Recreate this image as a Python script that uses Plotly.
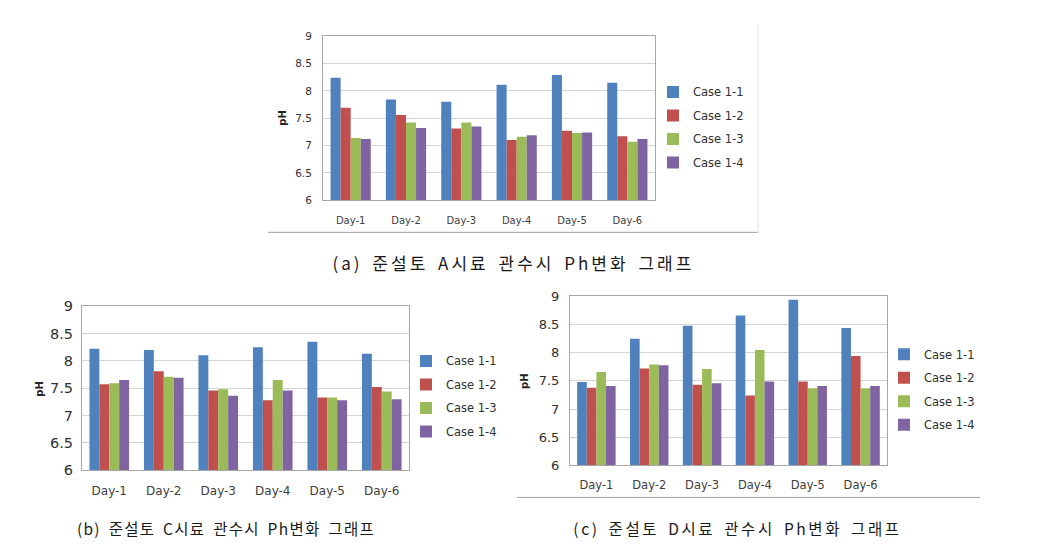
import plotly.graph_objects as go

W, H = 1045, 554

days = ["Day-1", "Day-2", "Day-3", "Day-4", "Day-5", "Day-6"]
cases = ["Case 1-1", "Case 1-2", "Case 1-3", "Case 1-4"]
colors = ["#4F81BD", "#C0504D", "#9BBB59", "#8064A2"]

# (a) sample A
a_case11 = [8.24, 7.84, 7.80, 8.11, 8.29, 8.15]
a_case12 = [7.69, 7.56, 7.31, 7.10, 7.27, 7.17]
a_case13 = [7.14, 7.42, 7.42, 7.16, 7.23, 7.07]
a_case14 = [7.12, 7.32, 7.35, 7.19, 7.24, 7.12]
# (b) sample C
b_case11 = [8.22, 8.20, 8.10, 8.25, 8.35, 8.13]
b_case12 = [7.57, 7.81, 7.46, 7.28, 7.33, 7.52]
b_case13 = [7.59, 7.71, 7.48, 7.65, 7.33, 7.44]
b_case14 = [7.65, 7.69, 7.36, 7.46, 7.28, 7.30]
# (c) sample D
c_case11 = [7.48, 8.25, 8.48, 8.66, 8.94, 8.44]
c_case12 = [7.38, 7.72, 7.43, 7.24, 7.49, 7.94]
c_case13 = [7.66, 7.79, 7.71, 8.05, 7.37, 7.37]
c_case14 = [7.41, 7.78, 7.46, 7.49, 7.41, 7.41]

y_ticks = [6, 6.5, 7, 7.5, 8, 8.5, 9]
y_ticktext = ["6", "6.5", "7", "7.5", "8", "8.5", "9"]

captions = [
    "(a) 준설토 A시료 관수시 Ph변화 그래프",
    "(b) 준설토 C시료 관수시 Ph변화 그래프",
    "(c) 준설토 D시료 관수시 Ph변화 그래프",
]

def px_x(v):
    return v / W

def px_y(v):
    return 1 - v / H

panels = [
    dict(key="a", series=[a_case11, a_case12, a_case13, a_case14],
         xdom=[323, 655], ydom=[29, 198], xfs=10, yfs=10.5, ystand=8, xstand=11,
         legend="legend", leg_x=691, leg_cy=123, ylab_x=283, ylab_y=113),
    dict(key="b", series=[b_case11, b_case12, b_case13, b_case14],
         xdom=[82, 409], ydom=[307, 476], xfs=12, yfs=14.5, ystand=5, xstand=9,
         legend="legend2", leg_x=444, leg_cy=400, ylab_x=40, ylab_y=392),
    dict(key="c", series=[c_case11, c_case12, c_case13, c_case14],
         xdom=[570, 887], ydom=[297, 471], xfs=11.5, yfs=13, ystand=7, xstand=9,
         legend="legend3", leg_x=922, leg_cy=393, ylab_x=525, ylab_y=384),
]

fig = go.Figure()
layout = dict(
    width=W, height=H,
    margin=dict(l=0, r=0, t=0, b=0),
    paper_bgcolor="white", plot_bgcolor="white",
    barmode="group", bargap=0.273, bargroupgap=0,
    font=dict(family="DejaVu Sans", color="#333333"),
    annotations=[], shapes=[],
)

for i, p in enumerate(panels):
    xa = "x" if i == 0 else f"x{i+1}"
    ya = "y" if i == 0 else f"y{i+1}"
    xkey = "xaxis" if i == 0 else f"xaxis{i+1}"
    ykey = "yaxis" if i == 0 else f"yaxis{i+1}"
    for j, (name, vals) in enumerate(zip(cases, p["series"])):
        fig.add_trace(go.Bar(
            x=days, y=vals, name=name, xaxis=xa, yaxis=ya,
            marker=dict(color=colors[j], line=dict(width=0)),
            legend=p["legend"], legendgroup=f"{p['key']}{j}",
        ))
    layout[xkey] = dict(
        domain=[px_x(p["xdom"][0]), px_x(p["xdom"][1])],
        anchor=ya, type="category", categoryorder="array", categoryarray=days,
        showline=True, linecolor="#a6a6a6", linewidth=1, mirror=True,
        showgrid=False, ticks="", ticklabelstandoff=p["xstand"],
        tickfont=dict(family="DejaVu Sans", size=p["xfs"], color="#404040"),
        fixedrange=True,
    )
    layout[ykey] = dict(
        domain=[px_y(p["ydom"][1]), px_y(p["ydom"][0])],
        anchor=xa, range=[6, 9], tickmode="array", tickvals=y_ticks, ticktext=y_ticktext,
        showline=True, linecolor="#a6a6a6", linewidth=1, mirror=True,
        showgrid=True, gridcolor="#d4d4d4", gridwidth=1, zeroline=False,
        ticks="", ticklabelstandoff=p["ystand"],
        tickfont=dict(family="DejaVu Sans", size=p["yfs"], color="#303030"),
        fixedrange=True,
    )
    layout[p["legend"]] = dict(
        x=px_x(p["leg_x"] - 38), xanchor="left",
        y=px_y(p["leg_cy"]), yanchor="middle",
        font=dict(family="DejaVu Sans", size=11.5, color="#303030"),
        bgcolor="rgba(0,0,0,0)", borderwidth=0,
        tracegroupgap=4.5, itemclick=False, itemdoubleclick=False,
    )
    layout["annotations"].append(dict(
        text="<b>pH</b>", x=px_x(p["ylab_x"]), y=px_y(p["ylab_y"]),
        xref="paper", yref="paper", showarrow=False, textangle=-90,
        xanchor="center", yanchor="middle",
        font=dict(family="DejaVu Sans", size=10, color="#222222"),
    ))

# captions
cap_pos = [(513, 262, 17), (226, 535, 15.5), (737, 535, 15.5)]
for txt, (cx, cy, fs) in zip(captions, cap_pos):
    layout["annotations"].append(dict(
        text=txt, x=px_x(cx), y=px_y(cy), xref="paper", yref="paper",
        showarrow=False, xanchor="center", yanchor="middle",
        font=dict(family="Noto Sans CJK KR", size=fs, color="#1a1a1a"),
    ))

# chart frame remnants
frame_lines = [
    (268, 231, 758, 231, "#a0a0a0"),
    (758, 17, 758, 231, "#e2e2e2"),
    (517, 504, 980, 504, "#a0a0a0"),
]
for x0, y0, x1, y1, c in frame_lines:
    layout["shapes"].append(dict(
        type="line", xref="paper", yref="paper",
        x0=px_x(x0), y0=px_y(y0), x1=px_x(x1), y1=px_y(y1),
        line=dict(color=c, width=1),
    ))

fig.update_layout(**layout)

post = """
document.body.style.margin = '0';
document.body.style.padding = '0';
var spacing = {'(a)': '3px', '(b)': '1.3px', '(c)': '2.6px'};
document.querySelectorAll('.annotation-text').forEach(function (t) {
  var s = t.textContent || '';
  var k = s.slice(0, 3);
  if (spacing[k] && s.indexOf('준설토') >= 0) {
    t.style.letterSpacing = spacing[k];
    t.style.wordSpacing = '3px';
  }
});
"""
fig.write_html("out.html", config={"displayModeBar": False}, post_script=post)
